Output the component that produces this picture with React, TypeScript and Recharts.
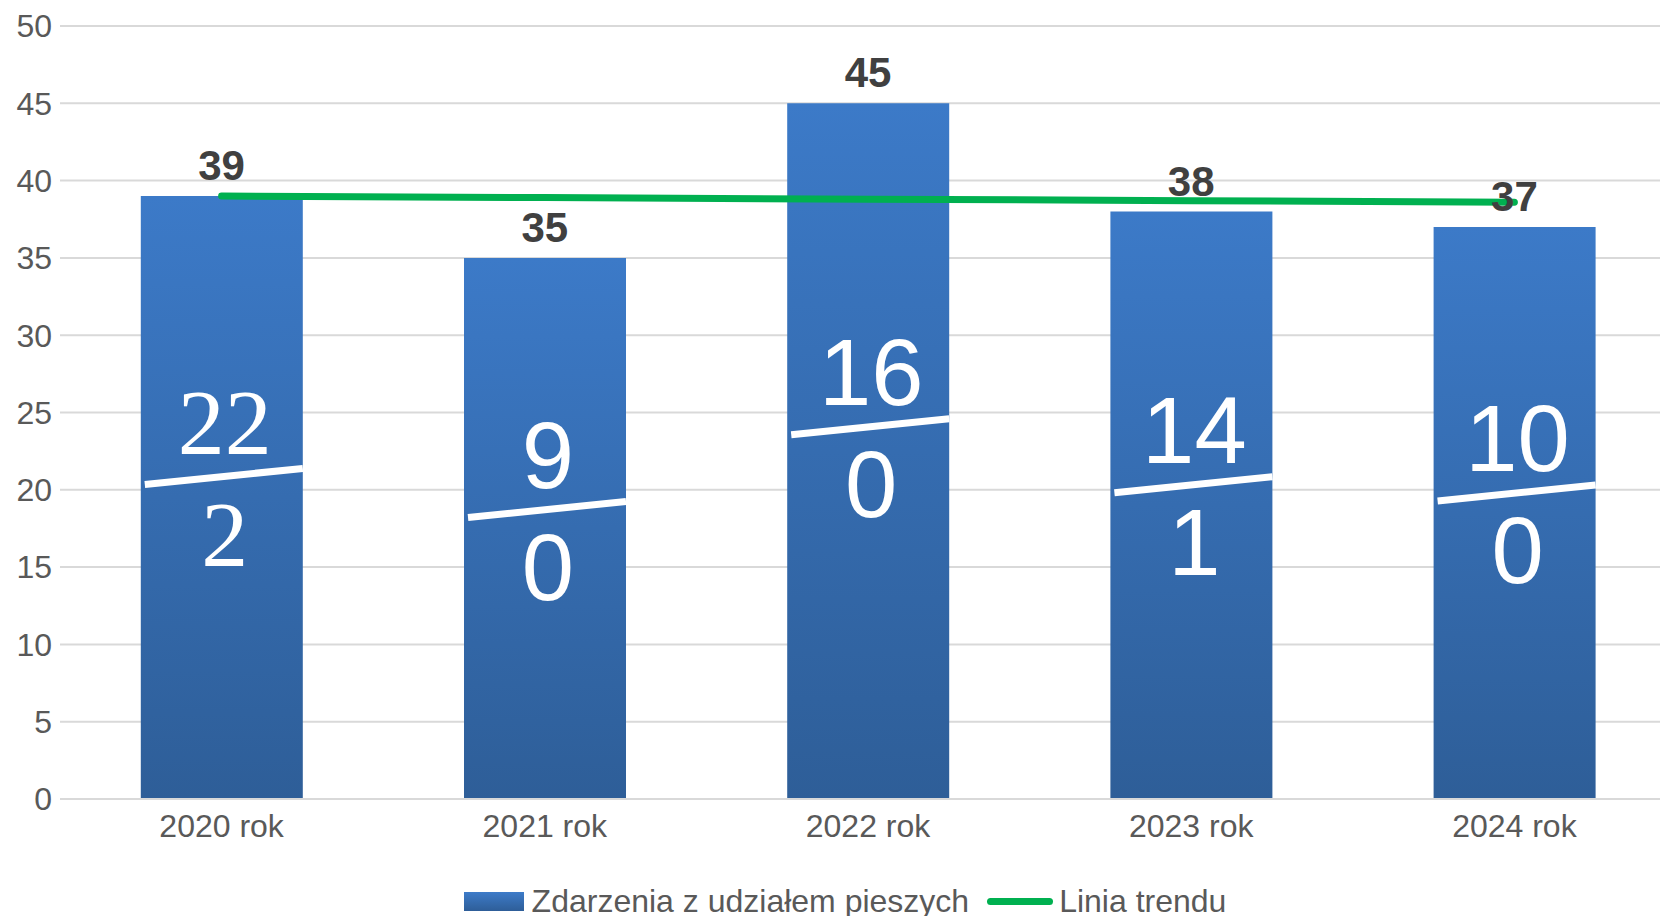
import { Bar, CartesianGrid, ComposedChart, LabelList, Legend, Line, XAxis, YAxis } from "recharts";

const years = ["2020 rok", "2021 rok", "2022 rok", "2023 rok", "2024 rok"];
const incidents = [39, 35, 45, 38, 37];
const upperParts = [22, 9, 16, 14, 10];
const lowerParts = [2, 0, 0, 1, 0];
const trendValues = [39, 38.9, 38.8, 38.7, 38.6];
const yTicks = [0, 5, 10, 15, 20, 25, 30, 35, 40, 45, 50];

const data = years.map((year, i) => ({
  year,
  incidents: incidents[i],
  upper: upperParts[i],
  lower: lowerParts[i],
  trend: trendValues[i]
}));

const SANS = "'Liberation Sans', Arial, sans-serif";
const SERIF = "'Liberation Serif', 'Times New Roman', serif";

// white "fraction" drawn inside each bar: upper value, slanted bar, lower value
function Fraction(props: any) {
  const box = props.viewBox ?? props;
  const { x, y, width, height } = box;
  const index = props.index ?? 0;
  if (x == null || height == null) return null;
  const lineY = y + height * 0.465;
  const cx = x + width / 2 + 3;
  const font = index === 0 ? SERIF : SANS;
  return (
    <g>
      <text x={cx} y={lineY - 22} textAnchor="middle" fill="#fff" fontSize={94} fontFamily={font}>
        {upperParts[index]}
      </text>
      <line x1={x + 4} y1={lineY + 8} x2={x + width} y2={lineY - 8} stroke="#fff" strokeWidth={7} />
      <text x={cx} y={lineY + 90} textAnchor="middle" fill="#fff" fontSize={94} fontFamily={font}>
        {lowerParts[index]}
      </text>
    </g>
  );
}

function LegendContent() {
  return (
    <div
      style={{
        position: "relative",
        top: 3,
        display: "flex",
        justifyContent: "center",
        alignItems: "center",
        height: 36,
        lineHeight: "36px",
        fontFamily: SANS,
        fontSize: 32,
        color: "#595959",
        paddingLeft: 14
      }}
    >
      <span
        style={{
          width: 60,
          height: 19,
          marginRight: 8,
          background: "linear-gradient(#3d7bc9, #2e5e98)"
        }}
      />
      <span>Zdarzenia z udziałem pieszych</span>
      <span style={{ width: 66, height: 7, borderRadius: 4, background: "#00b050", margin: "0 6px 0 18px" }} />
      <span>Linia trendu</span>
    </div>
  );
}

export default function App() {
  return (
    <div style={{ position: "absolute", left: 0, top: 0, width: 1660, height: 916, overflow: "hidden", background: "#fff", fontFamily: SANS }}>
      <ComposedChart width={1676} height={916} data={data} margin={{ top: 26, right: 0, bottom: 0, left: 0 }} barCategoryGap="25%">
        <defs>
          <linearGradient id="barFill" x1="0" y1="0" x2="0" y2="1">
            <stop offset="0%" stopColor="#3c7ac8" />
            <stop offset="100%" stopColor="#2e5e98" />
          </linearGradient>
        </defs>
        <CartesianGrid vertical={false} stroke="#d9d9d9" strokeWidth={2} />
        <XAxis
          dataKey="year"
          axisLine={{ stroke: "#d9d9d9", strokeWidth: 2 }}
          tickLine={false}
          tickSize={0}
          tickMargin={15}
          height={81}
          tick={{ fill: "#595959", fontSize: 32, fontFamily: SANS }}
        />
        <YAxis
          domain={[0, 50]}
          ticks={yTicks}
          width={60}
          axisLine={false}
          tickLine={false}
          tickSize={0}
          tickMargin={8}
          tick={{ fill: "#595959", fontSize: 32, fontFamily: SANS }}
        />
        <Legend verticalAlign="bottom" height={36} content={<LegendContent />} />
        <Bar dataKey="incidents" name="Zdarzenia z udziałem pieszych" fill="url(#barFill)" isAnimationActive={false}>
          <LabelList dataKey="upper" content={<Fraction />} />
        </Bar>
        <Line
          dataKey="trend"
          name="Linia trendu"
          type="linear"
          stroke="#00b050"
          strokeWidth={7}
          strokeLinecap="round"
          dot={false}
          activeDot={false}
          isAnimationActive={false}
        />
        <Line dataKey="incidents" stroke="none" dot={false} activeDot={false} legendType="none" isAnimationActive={false}>
          <LabelList dataKey="incidents" position="top" offset={16} fill="#404040" fontSize={42} fontWeight="bold" fontFamily={SANS} />
        </Line>
      </ComposedChart>
    </div>
  );
}
